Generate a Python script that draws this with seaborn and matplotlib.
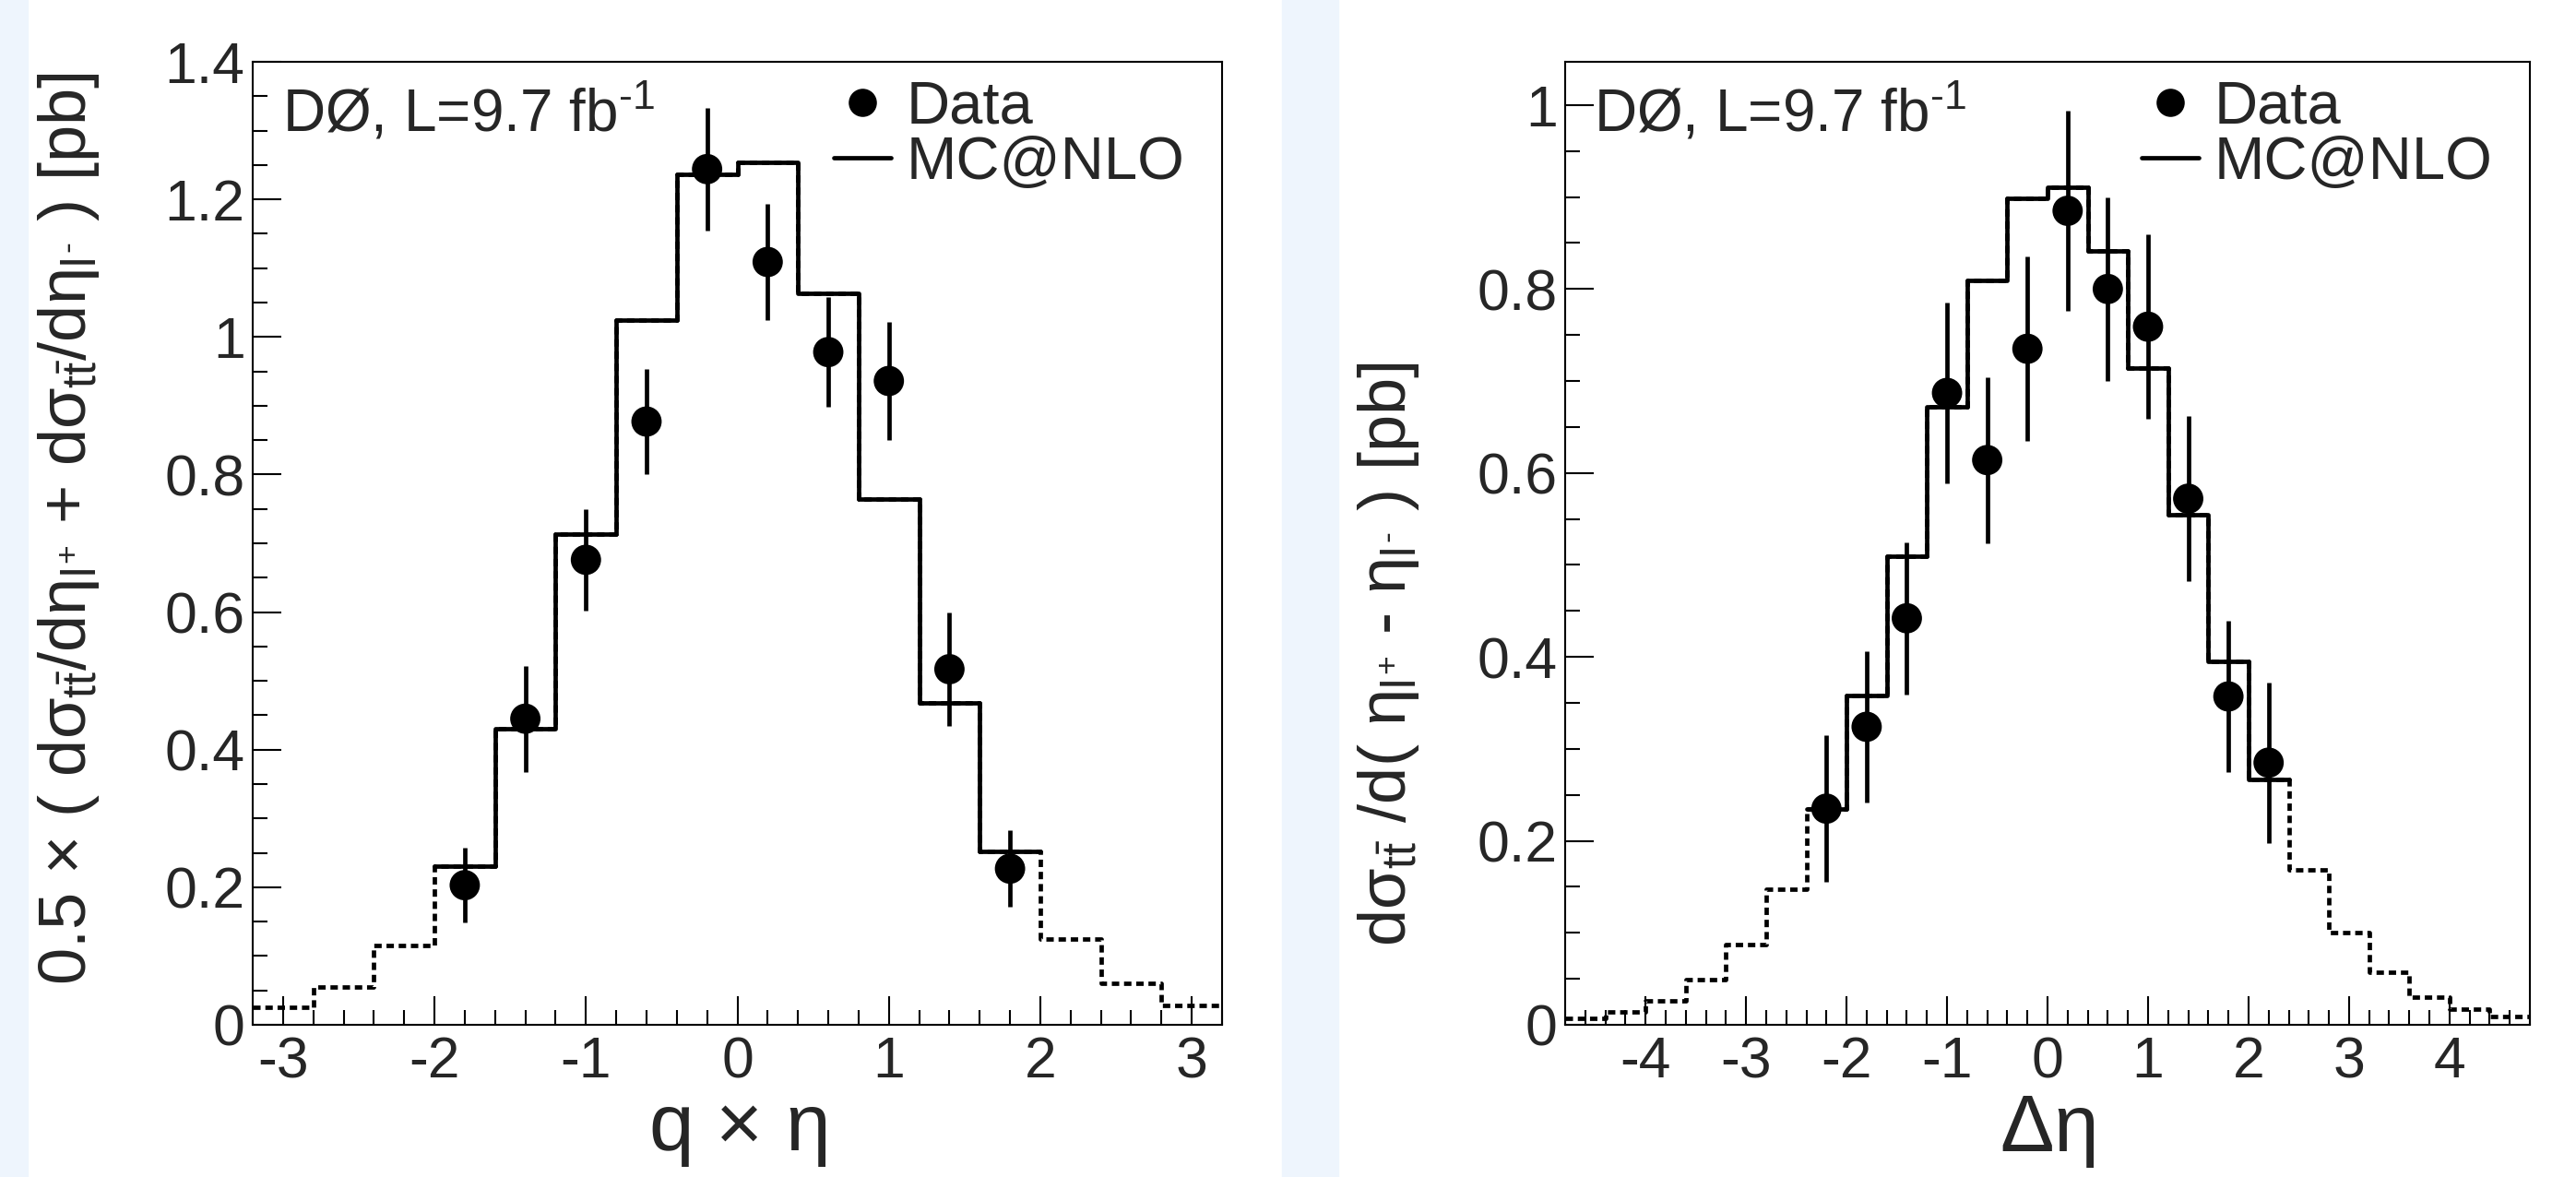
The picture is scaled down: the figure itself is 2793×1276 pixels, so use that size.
"""
D0 lepton pseudorapidity distributions: q x eta and delta eta,
data points with error bars against the MC@NLO prediction.
"""

import numpy as np
import matplotlib
matplotlib.use("Agg")
import matplotlib.pyplot as plt
from matplotlib.lines import Line2D
from matplotlib.patches import Rectangle
from matplotlib.ticker import MultipleLocator, FormatStrFormatter
import seaborn as sns

# -----------------------------
# Data: left panel (q x eta)
# -----------------------------
qeta_edges = [-3.2, -2.8, -2.4, -2.0, -1.6, -1.2, -0.8, -0.4, 0.0,
              0.4, 0.8, 1.2, 1.6, 2.0, 2.4, 2.8, 3.2]
qeta_mc = [0.025, 0.055, 0.115, 0.23, 0.43, 0.714, 1.025, 1.237,
           1.254, 1.064, 0.764, 0.468, 0.252, 0.125, 0.06, 0.028]
qeta_mc_solid_range = (-2.0, 2.0)

qeta_x = [-1.8, -1.4, -1.0, -0.6, -0.2, 0.2, 0.6, 1.0, 1.4, 1.8]
qeta_data = [0.203, 0.445, 0.676, 0.877, 1.244, 1.109, 0.978, 0.936, 0.517, 0.227]
qeta_err = [0.054, 0.077, 0.074, 0.076, 0.089, 0.085, 0.080, 0.086, 0.082, 0.056]

# -----------------------------
# Data: right panel (delta eta)
# -----------------------------
deta_edges = [-4.8, -4.4, -4.0, -3.6, -3.2, -2.8, -2.4, -2.0, -1.6, -1.2,
              -0.8, -0.4, 0.0, 0.4, 0.8, 1.2, 1.6, 2.0, 2.4, 2.8, 3.2,
              3.6, 4.0, 4.4, 4.8]
deta_mc = [0.007, 0.014, 0.026, 0.049, 0.087, 0.147, 0.235, 0.358, 0.509,
           0.672, 0.809, 0.899, 0.911, 0.841, 0.714, 0.555, 0.395, 0.267,
           0.168, 0.100, 0.057, 0.030, 0.017, 0.009]
deta_mc_solid_range = (-2.4, 2.4)

deta_x = [-2.2, -1.8, -1.4, -1.0, -0.6, -0.2, 0.2, 0.6, 1.0, 1.4, 1.8, 2.2]
deta_data = [0.235, 0.324, 0.442, 0.687, 0.614, 0.735, 0.885, 0.800,
             0.759, 0.572, 0.357, 0.285]
deta_err = [0.080, 0.082, 0.083, 0.098, 0.090, 0.100, 0.109, 0.100,
            0.100, 0.090, 0.082, 0.087]

# -----------------------------
# Style
# -----------------------------
sns.set_style("ticks")
plt.rcParams["font.family"] = ["Liberation Sans", "DejaVu Sans"]
plt.rcParams["mathtext.fontset"] = "custom"
plt.rcParams["mathtext.rm"] = "Liberation Sans"
plt.rcParams["mathtext.it"] = "Liberation Sans"
plt.rcParams["mathtext.bf"] = "Liberation Sans:bold"

LW = 3.4
TICK_FS = 45
LABEL_FS = 52
XLABEL_FS = 63
TEXT_FS = 47
DOTS = (0, (1.7, 1.1))


def draw_panel(ax, edges, mc, solid_range, xs, ys, errs):
    edges = np.array(edges)
    centers = 0.5 * (edges[:-1] + edges[1:])
    mc = np.array(mc)

    # full MC histogram dotted, central part solid on top
    sns.histplot(x=centers, weights=mc, bins=list(edges), element="step", fill=False,
                 color="black", linewidth=LW, linestyle=DOTS, ax=ax)
    inner = (centers > solid_range[0]) & (centers < solid_range[1])
    inner_edges = edges[(edges >= solid_range[0] - 1e-9) & (edges <= solid_range[1] + 1e-9)]
    sns.histplot(x=centers[inner], weights=mc[inner], bins=list(inner_edges),
                 element="step", fill=False, color="black", linewidth=LW, ax=ax)

    # data with vertical error bars
    ax.errorbar(xs, ys, yerr=errs, fmt="none", ecolor="black", elinewidth=LW,
                capsize=0, zorder=4)
    sns.scatterplot(x=xs, y=ys, color="black", s=560, edgecolor="none",
                    marker="o", zorder=5, ax=ax)

    ax.set_xlim(edges[0], edges[-1])
    ax.xaxis.set_major_locator(MultipleLocator(1))
    ax.xaxis.set_minor_locator(MultipleLocator(0.2))
    ax.yaxis.set_major_locator(MultipleLocator(0.2))
    ax.yaxis.set_minor_locator(MultipleLocator(0.05))
    ax.xaxis.set_major_formatter(FormatStrFormatter("%g"))
    ax.yaxis.set_major_formatter(FormatStrFormatter("%g"))
    ax.tick_params(which="both", direction="in", top=False, right=False,
                   width=1.5, color="black", labelsize=TICK_FS)
    ax.tick_params(which="major", length=22)
    ax.tick_params(which="minor", length=11.5)
    ax.tick_params(axis="y", which="major", pad=6)
    ax.tick_params(axis="x", which="major", pad=8)
    for sp in ax.spines.values():
        sp.set_linewidth(1.5)
        sp.set_color("black")

    ax.text(0.03, 0.928, r"DØ, L=9.7 fb$^{\text{-}1}$", transform=ax.transAxes,
            fontsize=TEXT_FS - 1, ha="left", va="baseline")

    handles = [
        Line2D([], [], marker="o", ls="none", ms=22, color="black", mec="none"),
        Line2D([], [], color="black", lw=LW),
    ]
    ax.legend(handles, ["Data", "MC@NLO"], loc="upper right",
              bbox_to_anchor=(0.98, 1.0), frameon=False, fontsize=TEXT_FS,
              handlelength=0.95, handletextpad=0.25, labelspacing=0.0,
              borderaxespad=0.1, borderpad=0.2)


fig = plt.figure(figsize=(27.93, 12.76), dpi=100)
fig.patch.set_facecolor("white")

# light blue page background strips
bg = "#eef5fd"
fig.patches.append(Rectangle((0, 0), 30 / 2793, 1, transform=fig.transFigure,
                             color=bg, zorder=0))
fig.patches.append(Rectangle((1390 / 2793, 0), 61 / 2793, 1,
                             transform=fig.transFigure, color=bg, zorder=0))

ax1 = fig.add_axes([274 / 2793, 165 / 1276, 1051 / 2793, 1044 / 1276])
ax2 = fig.add_axes([1697 / 2793, 165 / 1276, 1046 / 2793, 1044 / 1276])

draw_panel(ax1, qeta_edges, qeta_mc, qeta_mc_solid_range, qeta_x, qeta_data, qeta_err)
ax1.set_ylim(0, 1.4)
ax1.set_xlabel(r"q $\times$ $\eta$", fontsize=XLABEL_FS)
ax1.set_ylabel(r"0.5 $\times$ ( d$\sigma_{t\bar{t}}$/d$\eta_{l^{\text{+}}}$ + "
               r"d$\sigma_{t\bar{t}}$/d$\eta_{l^{\text{-}}}$ ) [pb]",
               fontsize=LABEL_FS)
ax1.xaxis.set_label_coords(0.5, -0.072)
ax1.yaxis.set_label_coords(-0.156, 0.515)

draw_panel(ax2, deta_edges, deta_mc, deta_mc_solid_range, deta_x, deta_data, deta_err)
ax2.set_ylim(0, 1.047)
ax2.set_xlabel(r"$\Delta\eta$", fontsize=XLABEL_FS)
ax2.set_ylabel(r"d$\sigma_{t\bar{t}}$ /d( $\eta_{l^{\text{+}}}$ - $\eta_{l^{\text{-}}}$ ) [pb]",
               fontsize=LABEL_FS)
ax2.xaxis.set_label_coords(0.5, -0.072)
ax2.yaxis.set_label_coords(-0.149, 0.385)

fig.savefig("out.png", dpi=100, facecolor=fig.get_facecolor())
